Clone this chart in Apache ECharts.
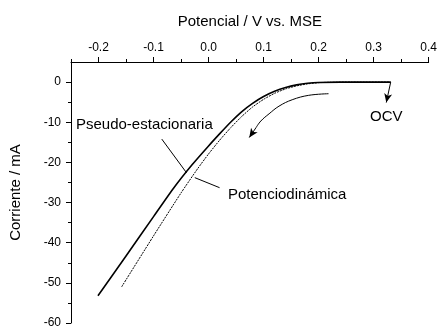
<!DOCTYPE html>
<html><head><meta charset="utf-8">
<script src="https://cdn.jsdelivr.net/npm/echarts@6/dist/echarts.min.js"></script>
<style>html,body{margin:0;padding:0;background:#fff}#c{width:440px;height:329px}</style>
</head><body><div id="c"></div>
<script>
// Pseudo-estacionaria (solid): [potential V, current mA]
const pseudoX = [-0.201, -0.15, -0.10, -0.064, -0.03, 0.0, 0.02, 0.04, 0.06, 0.08, 0.10, 0.12, 0.14, 0.16, 0.18, 0.20, 0.24, 0.331];
const pseudoY = [-53.2, -43.3, -33.5, -26.5, -20.6, -15.9, -12.9, -10.0, -7.4, -5.3, -3.6, -2.3, -1.35, -0.7, -0.3, -0.1, 0, 0];
// Potenciodinámica (dotted)
const potX = [-0.158, -0.10, -0.05, -0.02, 0.0, 0.02, 0.04, 0.06, 0.08, 0.10, 0.12, 0.14, 0.16, 0.18, 0.20, 0.22, 0.26, 0.331];
const potY = [-51.0, -38.3, -27.6, -21.6, -17.9, -14.5, -11.4, -8.6, -6.2, -4.3, -2.8, -1.7, -0.95, -0.45, -0.15, -0.05, 0, 0];
// scan-direction arrow (annotation)
const scanX = [0.218, 0.182, 0.152, 0.128, 0.110, 0.095, 0.086];
const scanY = [-2.9, -3.3, -4.4, -6.0, -7.9, -9.7, -11.4];
const scanTip = [0.074, -13.8];
// OCV arrow
const ocvFrom = [0.331, 0];
const ocvTo = [0.323, -5.1];
// label pointer lines
const pseudoPointer = [[-0.085, -14.2], [-0.040, -22.6]];
const potPointer = [[-0.025, -23.8], [0.020, -26.3]];
// ticks
const xMajor = [-0.2, -0.1, 0.0, 0.1, 0.2, 0.3, 0.4];
const xMinor = [-0.25, -0.15, -0.05, 0.05, 0.15, 0.25, 0.35];
const yMajor = [-60, -50, -40, -30, -20, -10, 0];
const yMinor = [-55, -45, -35, -25, -15, -5];

const font = 'Liberation Sans, Arial, sans-serif';
const zip = (a, b) => a.map((v, i) => [v, b[i]]);
const chart = echarts.init(document.getElementById('c'));
const xBase = {type: 'value', min: -0.25, max: 0.4, position: 'top', splitLine: {show: false}};
const yBase = {type: 'value', min: -60, max: 5, position: 'left', splitLine: {show: false}};
chart.setOption({
  animation: false,
  grid: {left: 71, right: 9, top: 62, bottom: 2},
  xAxis: [
    Object.assign({}, xBase, {
      name: 'Potencial / V vs. MSE', nameLocation: 'middle', nameGap: 33,
      nameTextStyle: {fontFamily: font, fontSize: 15, color: '#000'},
      axisLine: {show: true, onZero: false, lineStyle: {color: '#000', width: 1}},
      axisTick: {show: true, inside: false, length: 5, customValues: xMajor, lineStyle: {color: '#000'}},
      axisLabel: {customValues: xMajor, margin: 8, fontFamily: font, fontSize: 12, color: '#000', formatter: v => v.toFixed(1)}
    }),
    Object.assign({}, xBase, {
      axisLine: {show: false, onZero: false},
      axisTick: {show: true, length: 3, customValues: xMinor, lineStyle: {color: '#000'}},
      axisLabel: {show: false}
    })
  ],
  yAxis: [
    Object.assign({}, yBase, {
      name: 'Corriente / mA', nameLocation: 'middle', nameGap: 48, nameRotate: 90,
      nameTextStyle: {fontFamily: font, fontSize: 15, color: '#000'},
      axisLine: {show: true, onZero: false, lineStyle: {color: '#000', width: 1}},
      axisTick: {show: true, length: 5, customValues: yMajor, lineStyle: {color: '#000'}},
      axisLabel: {customValues: yMajor, margin: 10, fontFamily: font, fontSize: 12, color: '#000'}
    }),
    Object.assign({}, yBase, {
      axisLine: {show: false, onZero: false},
      axisTick: {show: true, length: 3, customValues: yMinor, lineStyle: {color: '#000'}},
      axisLabel: {show: false}
    })
  ],
  series: [
    {type: 'line', data: zip(pseudoX, pseudoY), symbol: 'none', smooth: 0.2,
     lineStyle: {color: '#000', width: 1.6}, z: 3},
    {type: 'line', data: zip(potX, potY), symbol: 'none', smooth: 0.2,
     lineStyle: {color: '#000', width: 1, type: [2, 1]}, z: 2},
    {type: 'line', data: zip(scanX, scanY), symbol: 'none', smooth: 0.4,
     lineStyle: {color: '#000', width: 1},
     markLine: {silent: true, symbol: ['none', 'arrow'], symbolSize: [6, 9], label: {show: false},
       lineStyle: {color: '#000', width: 1, type: 'solid'},
       data: [[{coord: [scanX[scanX.length - 1], scanY[scanY.length - 1]]}, {coord: scanTip}]]}},
    {type: 'line', data: [], symbol: 'none',
     markLine: {silent: true, symbol: ['none', 'arrow'], symbolSize: [6, 9], label: {show: false},
       lineStyle: {color: '#000', width: 1, type: 'solid'},
       data: [[{coord: ocvFrom}, {coord: ocvTo}]]}},
    {type: 'line', data: pseudoPointer, symbol: 'none', lineStyle: {color: '#000', width: 1}},
    {type: 'line', data: potPointer, symbol: 'none', lineStyle: {color: '#000', width: 1}}
  ],
  graphic: [
    {type: 'text', left: 76, top: 117, style: {text: 'Pseudo-estacionaria', font: '15px ' + font, fill: '#000'}},
    {type: 'text', left: 228, top: 187, style: {text: 'Potenciodinámica', font: '15px ' + font, fill: '#000'}},
    {type: 'text', left: 370, top: 109, style: {text: 'OCV', font: '15px ' + font, fill: '#000'}}
  ]
});
</script></body></html>
